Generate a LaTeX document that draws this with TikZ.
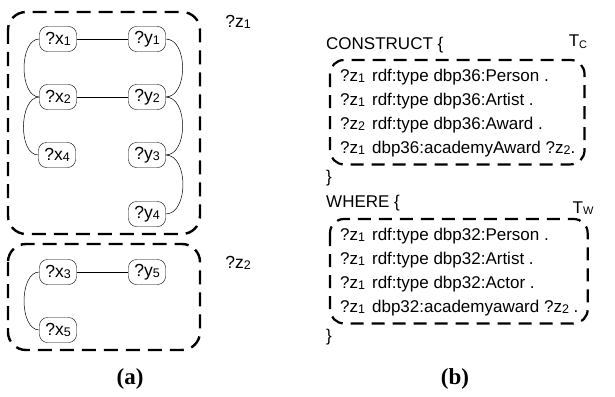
\documentclass[tikz,border=0pt]{standalone}
\usepackage{fontspec}
\setmainfont{Liberation Sans}
\newfontfamily\capfont{Liberation Serif}
\usetikzlibrary{positioning}
\tikzset{
  var/.style={draw,rounded corners=8pt,minimum width=37pt,minimum height=25pt,inner sep=1pt,font=\fontsize{17.5}{18}\selectfont},
  group/.style={line width=2.4pt,dash pattern=on 14pt off 8pt,rounded corners=18pt},
  link/.style={line width=0.5pt},
  code/.style={font=\fontsize{17}{24}\selectfont,inner sep=0pt},
  caption/.style={font=\capfont\bfseries\fontsize{23}{26}\selectfont}
}
\newcommand{\vn}[2]{?#1\raisebox{-1.6pt}{\fontsize{12.5}{12.5}\selectfont#2}}
\begin{document}
\begin{tikzpicture}[x=1pt,y=-1pt]
\useasboundingbox (0,0) rectangle (615,396);

\node (x1) [var] at (58,39) {\vn{x}{1}};
\node (y1) [var] at (147,39) {\vn{y}{1}};
\node (x2) [var] at (58,97) {\vn{x}{2}};
\node (y2) [var] at (147,97) {\vn{y}{2}};
\node (x4) [var] at (57,155) {\vn{x}{4}};
\node (y3) [var] at (147,155) {\vn{y}{3}};
\node (y4) [var] at (147,214) {\vn{y}{4}};
\node (x3) [var] at (58,272) {\vn{x}{3}};
\node (y5) [var] at (147,272) {\vn{y}{5}};
\node (x5) [var] at (58,330) {\vn{x}{5}};

\draw [link] (x1) -- (y1);
\draw [link] (x2) -- (y2);
\draw [link] (x3) -- (y5);
\draw [link] (x1.west) to[out=180,in=180,looseness=0.9] (x2.west);
\draw [link] (x2.west) to[out=180,in=180,looseness=0.9] (x4.west);
\draw [link] (x3.west) to[out=180,in=180,looseness=0.9] (x5.west);
\draw [link] (y1.east) to[out=0,in=0,looseness=1] (y2.east);
\draw [link] (y2.east) to[out=0,in=0,looseness=1] (y3.east);
\draw [link] (y3.east) to[out=0,in=0,looseness=1] (y4.east);

\draw [group] (8,12) rectangle (200,234);
\draw [group] (8,244) rectangle (200,350);
\node (z1) [font=\fontsize{17.5}{18}\selectfont] at (238,22) {\vn{z}{1}};
\node (z2) [font=\fontsize{17.5}{18}\selectfont] at (238,263) {\vn{z}{2}};

\node (construct) [code,anchor=west] at (326,45) {CONSTRUCT \{};
\node (tc) [code,anchor=north west] at (340,64) {
\begin{tabular}{@{}l@{\hspace{7pt}}l@{}}
\vn{z}{1} & rdf:type dbp36:Person . \\
\vn{z}{1} & rdf:type dbp36:Artist . \\
\vn{z}{2} & rdf:type dbp36:Award . \\
\vn{z}{1} & dbp36:academyAward \vn{z}{2}. \\
\end{tabular}
};
\draw [group,line width=2.2pt,dash pattern=on 13pt off 8pt,rounded corners=14pt] ([shift={(-10,-4)}]tc.north west) rectangle ([shift={(9,4)}]tc.south east);
\node (cend) [code,anchor=west] at (326,178) {\}};
\node (tclabel) [font=\fontsize{17}{18}\selectfont] at (578,42) {T\raisebox{-1.6pt}{\fontsize{11}{11}\selectfont C}};

\node (where) [code,anchor=west] at (326,203) {WHERE \{};
\node (tw) [code,anchor=north west] at (340,223) {
\begin{tabular}{@{}l@{\hspace{7pt}}l@{}}
\vn{z}{1} & rdf:type dbp32:Person . \\
\vn{z}{1} & rdf:type dbp32:Artist . \\
\vn{z}{1} & rdf:type dbp32:Actor . \\
\vn{z}{1} & dbp32:academyaward \vn{z}{2} . \\
\end{tabular}
};
\draw [group,line width=2.2pt,dash pattern=on 13pt off 8pt,rounded corners=14pt] ([shift={(-10,-4)}]tw.north west) rectangle ([shift={(9,4)}]tw.south east);
\node (wend) [code,anchor=west] at (326,337) {\}};
\node (twlabel) [font=\fontsize{17}{18}\selectfont] at (583,208) {T\raisebox{-1.6pt}{\fontsize{11}{11}\selectfont W}};

\node (capa) [caption] at (130,379) {(a)};
\node (capb) [caption] at (455,379) {(b)};
\end{tikzpicture}
\end{document}
